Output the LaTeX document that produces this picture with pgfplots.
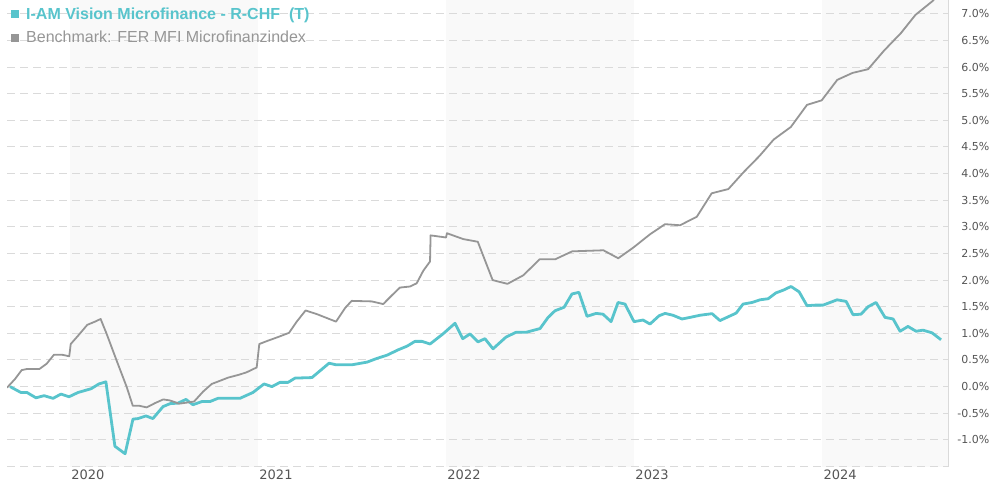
\documentclass[border=0pt]{standalone}
\usepackage{pgfplots}
\pgfplotsset{compat=1.18}
\usepackage{pgfplotstable}
\usepackage{fontspec}
\setmainfont{Liberation Sans}
\newfontfamily\tickfont{DejaVu Sans}
\definecolor{fundc}{RGB}{88,196,204}
\definecolor{benchc}{RGB}{150,150,150}
\definecolor{bandc}{RGB}{249,249,249}
\definecolor{gridc}{RGB}{218,218,218}
\definecolor{tickc}{RGB}{85,85,85}
\pgfplotsset{set layers}

\pgfplotstableread{
x y
2019.681 0.00
2019.739 -0.11
2019.771 -0.11
2019.819 -0.21
2019.862 -0.17
2019.910 -0.22
2019.952 -0.14
2019.995 -0.19
2020.043 -0.11
2020.112 -0.04
2020.154 0.05
2020.191 0.09
2020.239 -1.12
2020.293 -1.26
2020.335 -0.61
2020.362 -0.60
2020.404 -0.55
2020.441 -0.60
2020.495 -0.375
2020.532 -0.32
2020.574 -0.31
2020.617 -0.24
2020.654 -0.34
2020.702 -0.28
2020.745 -0.28
2020.787 -0.22
2020.904 -0.22
2020.973 -0.11
2021.032 0.05
2021.074 0.00
2021.117 0.08
2021.160 0.08
2021.197 0.16
2021.287 0.17
2021.378 0.44
2021.415 0.41
2021.500 0.41
2021.580 0.46
2021.633 0.53
2021.686 0.59
2021.745 0.69
2021.793 0.76
2021.835 0.85
2021.872 0.85
2021.915 0.80
2021.984 0.99
2022.048 1.19
2022.089 0.90
2022.128 0.99
2022.170 0.84
2022.207 0.90
2022.250 0.71
2022.319 0.93
2022.372 1.02
2022.426 1.02
2022.500 1.09
2022.543 1.30
2022.580 1.425
2022.628 1.49
2022.670 1.74
2022.707 1.77
2022.750 1.32
2022.798 1.375
2022.835 1.36
2022.878 1.22
2022.915 1.58
2022.952 1.55
2023.000 1.22
2023.048 1.25
2023.085 1.175
2023.133 1.33
2023.165 1.375
2023.207 1.34
2023.255 1.27
2023.298 1.30
2023.351 1.34
2023.415 1.37
2023.457 1.24
2023.500 1.31
2023.543 1.38
2023.580 1.55
2023.628 1.58
2023.670 1.63
2023.713 1.65
2023.755 1.76
2023.793 1.81
2023.835 1.88
2023.878 1.78
2023.920 1.52
2023.963 1.53
2024.005 1.53
2024.043 1.58
2024.080 1.63
2024.128 1.60
2024.165 1.35
2024.207 1.36
2024.245 1.50
2024.287 1.58
2024.335 1.30
2024.378 1.27
2024.415 1.04
2024.457 1.13
2024.500 1.04
2024.537 1.06
2024.585 1.01
2024.633 0.88
}\fund

\pgfplotstableread{
x y
2019.665 -0.02
2019.707 0.14
2019.743 0.31
2019.770 0.33
2019.837 0.33
2019.876 0.43
2019.915 0.60
2019.956 0.60
2019.996 0.57
2020.004 0.80
2020.044 0.96
2020.092 1.16
2020.133 1.22
2020.163 1.27
2020.195 0.99
2020.248 0.49
2020.302 -0.01
2020.334 -0.36
2020.369 -0.36
2020.408 -0.39
2020.452 -0.31
2020.496 -0.24
2020.532 -0.26
2020.581 -0.32
2020.621 -0.30
2020.660 -0.28
2020.709 -0.09
2020.754 0.05
2020.798 0.11
2020.842 0.17
2020.901 0.225
2020.940 0.27
2020.993 0.36
2021.007 0.80
2021.051 0.86
2021.106 0.93
2021.165 1.01
2021.206 1.22
2021.253 1.43
2021.314 1.36
2021.415 1.22
2021.463 1.475
2021.498 1.61
2021.605 1.60
2021.666 1.55
2021.711 1.71
2021.755 1.86
2021.809 1.88
2021.844 1.94
2021.879 2.175
2021.915 2.35
2021.918 2.84
2022.000 2.80
2022.005 2.88
2022.092 2.77
2022.169 2.72
2022.248 2.00
2022.327 1.93
2022.411 2.09
2022.498 2.39
2022.580 2.39
2022.671 2.54
2022.837 2.56
2022.916 2.41
2022.996 2.61
2023.085 2.86
2023.165 3.05
2023.245 3.03
2023.334 3.19
2023.413 3.63
2023.502 3.71
2023.581 4.02
2023.667 4.33
2023.743 4.64
2023.834 4.875
2023.920 5.29
2023.998 5.375
2024.081 5.76
2024.162 5.89
2024.245 5.96
2024.330 6.31
2024.420 6.64
2024.497 6.98
2024.588 7.24
2024.633 7.42
}\bench

\begin{document}
\begin{tikzpicture}[trim left=0bp, trim right=989bp]
\begin{axis}[
  at={(7bp,19bp)}, anchor=south west,
  scale only axis, width=941bp, height=466bp,
  xmin=2019.665, xmax=2024.67, ymin=-1.5, ymax=7.25,
  axis x line*=bottom, axis y line*=right,
  x axis line style={draw=none},
  y axis line style={draw=gridc, line width=1bp},
  major tick length=0pt,
  xtick={2020,2021,2022,2023,2024},
  xticklabels={2020,2021,2022,2023,2024},
  xticklabel style={font=\tickfont\fontsize{13bp}{15bp}\selectfont, text=tickc, anchor=center, inner sep=0pt, xshift=18bp, yshift=-8.5bp},
  ytick={-1,-0.5,0,0.5,1,1.5,2,2.5,3,3.5,4,4.5,5,5.5,6,6.5,7},
  yticklabels={-1.0\%,-0.5\%,0.0\%,0.5\%,1.0\%,1.5\%,2.0\%,2.5\%,3.0\%,3.5\%,4.0\%,4.5\%,5.0\%,5.5\%,6.0\%,6.5\%,7.0\%},
  yticklabel style={font=\tickfont\fontsize{11bp}{13bp}\selectfont, text=tickc, anchor=east, inner sep=0pt, xshift=41.5bp},
  extra y ticks={-1.5}, extra y tick labels={},
  ymajorgrids,
  major grid style={draw=gridc, dash pattern=on 8bp off 5bp, line width=1bp},
  legend style={at={(axis description cs:0,1)}, anchor=north west, xshift=1bp, yshift=-4bp,
    draw=none, fill=none, font=\fontsize{16bp}{19bp}\selectfont,
    nodes={inner sep=1bp}, row sep=8.5bp,
    /tikz/every odd column/.append style={column sep=6bp}},
  legend cell align=left,
  legend image code/.code={\fill[#1, draw=none] (0bp,-4bp) rectangle (8bp,4bp);},
]
\addplot[on layer=axis background, fill=bandc, draw=none, forget plot] coordinates {(2020,-1.5) (2021,-1.5) (2021,7.25) (2020,7.25)};
\addplot[on layer=axis background, fill=bandc, draw=none, forget plot] coordinates {(2022,-1.5) (2023,-1.5) (2023,7.25) (2022,7.25)};
\addplot[on layer=axis background, fill=bandc, draw=none, forget plot] coordinates {(2024,-1.5) (2024.67,-1.5) (2024.67,7.25) (2024,7.25)};
\addplot[fundc, line width=2.8bp, line join=round] table[x=x,y=y] {\fund};
\addlegendentry{\textcolor{fundc}{\bfseries I-AM Vision Microfinance - R-CHF\ \ (T)}}
\addplot[benchc, line width=1.8bp, line join=round] table[x=x,y=y] {\bench};
\addlegendentry{\textcolor{benchc}{Benchmark: FER MFI Microfinanzindex}}
\end{axis}
\path (0,0) rectangle (989bp,485bp);
\end{tikzpicture}
\end{document}
